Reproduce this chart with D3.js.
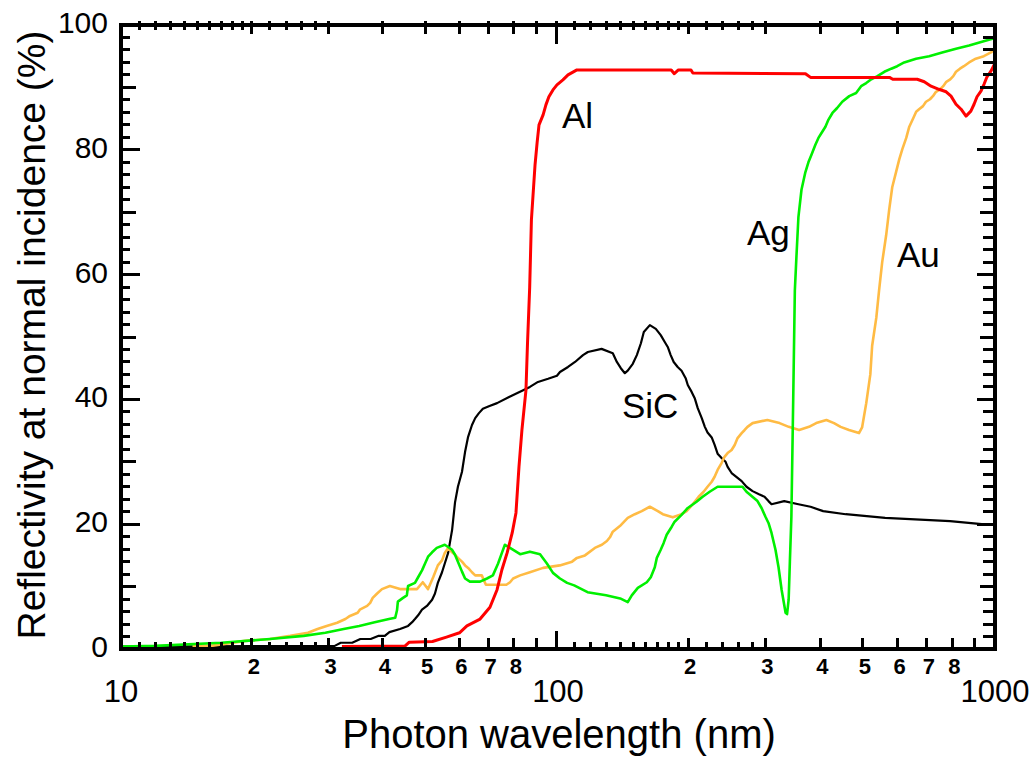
<!DOCTYPE html>
<html>
<head>
<meta charset="utf-8">
<script src="https://cdn.jsdelivr.net/npm/d3@7"></script>
<style>
  body { margin: 0; background: #fff; }
  text { font-family: "Liberation Sans", Arial, sans-serif; fill: #000; }
</style>
</head>
<body>
<div id="chart"></div>
<script>
// reflectivity curves, [wavelength nm, reflectivity %]
const alData = [[32.2,0.4],[45,0.5],[46,1.1],[52,1.2],[56,1.9],[60,2.6],[62.4,3.7],[66.9,4.8],[70.5,6.7],[73.2,9.5],[75.1,12.7],[77.2,15.4],[79.3,18.6],[80.9,21.8],[82.2,29.2],[83.5,35.1],[85.3,41.5],[86,49],[87,58],[87.8,68.8],[88.8,74],[89.5,77.6],[90.5,81.2],[91.4,84],[93.4,85.6],[94.8,87.2],[96.3,88.5],[98.4,89.6],[100.5,90.4],[103.7,91.2],[106.5,92],[111.6,92.8],[183,92.8],[186,92.2],[190,92.8],[203,92.8],[205,92.3],[370,92.2],[380,91.6],[575,91.6],[585,91.3],[665,91.3],[690,90.9],[715,90.2],[745,89.7],[774,89.3],[794,88.6],[815,87.3],[837,86.5],[859,85.4],[881,86.2],[896,87.3],[910,88.5],[929,89.4],[944,90.5],[959,91.7],[979,92.6],[1000,93.9]];

const agData = [[10,0.4],[12,0.5],[17,1.0],[22,1.6],[26.3,2.1],[29.5,2.6],[32.5,3.2],[35.3,3.7],[38.3,4.3],[41.3,4.8],[42.7,5.0],[43.1,6.2],[43.3,7.6],[44.5,8.2],[45.4,8.6],[45.7,10.1],[47.4,10.6],[48.2,11.5],[49.2,12.6],[50,13.7],[50.8,14.8],[51.9,15.5],[53.2,16.2],[55.5,16.7],[57.7,15.9],[58.6,15.1],[59.5,14],[60.8,12.4],[61.8,11.3],[63.4,10.8],[66.9,10.8],[69.4,11.3],[71.6,11.8],[73.6,13.7],[75.1,15.4],[76.3,16.7],[78.4,16.2],[82.7,15.2],[87.1,15.6],[91.9,15.2],[95.3,13.7],[98.4,12.2],[102.1,11.3],[106,10.6],[110,10.2],[118,9.1],[130,8.6],[140,8.1],[145.7,7.5],[148.8,8.6],[153.6,9.8],[161,10.7],[164.4,11.5],[167.9,13.1],[169.7,14.6],[173.2,15.9],[175.9,17],[178.7,18.3],[183.5,19.6],[186.3,20.4],[193.2,21.5],[199.6,22.6],[209,23.6],[215.8,24.4],[223.9,25.2],[233.4,26],[266,26],[271.6,25.2],[287.7,23.7],[293.9,22.6],[300,21.2],[304.8,20.2],[309.7,18.6],[316.2,15.9],[321.3,13.1],[326.5,9.5],[333.4,5.8],[336,5.6],[338.8,7.9],[341,14],[343.7,21.2],[347,40],[350,57.5],[353,63],[356.6,69.2],[362.4,73.6],[369.8,76.4],[375.8,78],[381.9,79.2],[389.8,80.8],[396.1,81.9],[402.5,82.7],[410.9,83.7],[417.3,84.8],[426.3,85.9],[436.9,86.7],[448.8,87.7],[465.6,88.6],[482.7,89.1],[495.5,90.2],[508.9,90.7],[522.6,91.3],[539.7,91.8],[559.6,92.5],[580.4,93],[598.7,93.4],[621,94],[661,94.6],[708,95],[758,95.6],[815,96.2],[873,96.7],[934,97.3],[1000,97.9]];

const auData = [[14.6,0.5],[16.1,0.5],[19.3,1.3],[22,1.6],[24.5,2.1],[26.9,2.6],[28.3,3.2],[29.7,3.7],[31.4,4.2],[32.8,4.8],[33.6,5.3],[35,5.8],[35.4,6.3],[36.8,6.9],[37.4,7.4],[37.9,8.2],[38.8,8.9],[39.8,9.6],[41.5,10.1],[43.8,9.6],[47.9,9.6],[49.4,10.7],[50.8,9.6],[52.2,11.5],[53.5,13.4],[54.7,14.2],[55.5,15.4],[56.5,16.2],[57.7,15.5],[58.6,15.1],[59.5,14.6],[60.8,14],[61.8,13.4],[62.8,13],[64.1,12.3],[65.2,11.8],[67.5,11.8],[69,10.3],[76.9,10.3],[78.4,10.7],[79.7,11.3],[82.7,11.8],[87.1,12.3],[93.4,13],[102,13.4],[108.8,14],[111.6,14.6],[116.4,15],[122.6,16.2],[127.2,16.7],[130.6,17.3],[132.7,17.9],[134.7,18.8],[139.8,19.7],[145.7,21],[151.2,21.6],[156.8,22.1],[163.6,22.8],[170.6,22.1],[175.1,21.6],[184.5,21.1],[193.2,21.6],[198.4,22.1],[202.6,22.8],[207,23.6],[211.3,24.4],[216.9,25.2],[221.4,26],[226.3,26.8],[229.8,27.6],[233.4,28.7],[238.3,29.8],[242,30.8],[246,31.4],[251.2,31.9],[255.3,32.7],[259.2,33.8],[264.8,34.6],[269,35.1],[273,35.6],[280.4,36.2],[303,36.7],[323,36.2],[339,35.6],[358,35.1],[377,35.6],[391.5,36.2],[413,36.7],[429.8,36.2],[445,35.6],[465,35.1],[490,34.6],[498,35.5],[509,39.4],[520,44],[525,48.6],[536.6,53.1],[544.5,57.5],[553.4,62],[565,66.3],[574.1,70.4],[583.3,74],[595.5,76.5],[605.4,78.5],[615.1,80.1],[627.8,81.9],[637.9,83.7],[651.6,85.1],[661.3,86.1],[671.4,86.5],[685.4,87],[696.3,87.7],[711,88.1],[722.1,88.6],[733.8,89.3],[749.9,89.7],[762.1,90.2],[774.6,90.9],[790.7,91.3],[803.5,91.8],[815,92.5],[832,93],[849.4,93.4],[873,94],[904,94.6],[943,95],[979,95.6],[1000,96.2]];

const sicData = [[10,0.4],[31,0.5],[32,1],[34,1],[35.5,1.6],[37.5,1.6],[39,2.1],[40.4,2.1],[41.4,2.7],[43.8,3.2],[45.7,3.7],[46.7,4.3],[47.4,4.8],[48.2,5.4],[49.2,6.3],[50.5,6.9],[51.9,7.9],[52.7,8.9],[53.5,10.6],[54.7,12.3],[55.5,13.7],[56.5,15.4],[57.7,19.1],[58.6,23.5],[59.5,26],[60.8,28.4],[61.8,31.6],[62.8,34],[64.1,35.9],[65.2,37],[66.5,37.8],[67.9,38.5],[70.1,38.9],[73.2,39.4],[78,40.4],[81.3,41],[87.1,42],[90.9,42.8],[95.9,43.3],[100.5,43.8],[102.1,44.4],[106.5,45.2],[110.5,46],[115.2,47.1],[118.2,47.6],[127,48.1],[134.7,47.4],[137.6,46],[140.5,45],[143.5,44.2],[145.7,44.6],[149.6,45.7],[152.8,47.1],[156.1,49],[158.5,50.8],[163.6,51.9],[168.8,51.3],[173.2,50.3],[176.9,49.2],[179.7,48.4],[182.5,47.1],[185.4,46],[189.3,45.2],[193.2,44.6],[197.4,43.4],[199.6,42.3],[203.7,41.2],[207,40.2],[210.3,38.6],[214.8,37],[218.3,35.6],[221.4,34.7],[226.3,33.9],[229.8,32.7],[233.4,31.3],[238.3,30.6],[243.4,30],[246,29.2],[251.2,28.2],[264.8,26.9],[271.6,26],[280.4,25.3],[290,24.8],[298.5,24.4],[304.8,23.7],[309.7,23.2],[331,23.7],[356.6,23.2],[380,22.8],[406,22.1],[457,21.6],[562,21],[790,20.5],[933,20],[1000,20]];

// axis ticks
const xDecades = [10, 100, 1000];
const xUnitTicks = [20,30,40,50,60,70,80,90,200,300,400,500,600,700,800,900];
const xFineTicks = [11,12,13,14,15,16,17,18,19,22,24,26,28,110,120,130,140,150,160,170,180,190,220,240,260,280];
const xSmallLabels = [[20,"2"],[30,"3"],[40,"4"],[50,"5"],[60,"6"],[70,"7"],[80,"8"],[200,"2"],[300,"3"],[400,"4"],[500,"5"],[600,"6"],[700,"7"],[800,"8"]];
const yTicks = d3.range(0, 101, 2);
const yLabels = [0, 20, 40, 60, 80, 100];

const curveLabels = [["Al", 562, 128], ["SiC", 622, 418], ["Ag", 747, 245], ["Au", 897, 267]];

const W = 1036, H = 759;
const pLeft = 121, pRight = 995, pTop = 25, pBottom = 649;

const svg = d3.select('#chart').append('svg')
  .attr('width', W).attr('height', H);

const x = d3.scaleLog().domain([10, 100, 1000]).range([pLeft, 556, pRight]);
const y = d3.scaleLinear().domain([0, 100]).range([pBottom, pTop]);

const line = d3.line().x(d => x(d[0])).y(d => y(d[1]));

// curves
const series = [
  [sicData, '#000000', 2.2],
  [auData, '#ffbb44', 2.6],
  [agData, '#00f000', 2.6],
  [alData, '#ff0000', 3]
];
series.forEach(s => {
  svg.append('path')
    .datum(s[0])
    .attr('d', line)
    .attr('fill', 'none')
    .attr('stroke', s[1])
    .attr('stroke-width', s[2])
    .attr('stroke-linejoin', 'round');
});

// frame
const axes = svg.append('g').attr('stroke', '#000').attr('shape-rendering', 'crispEdges');
axes.append('rect')
  .attr('x', pLeft).attr('y', pTop)
  .attr('width', pRight - pLeft).attr('height', pBottom - pTop)
  .attr('fill', 'none').attr('stroke-width', 4);

// x ticks, bottom and top
function xTick(v, lenB, lenT) {
  axes.append('line').attr('x1', x(v)).attr('x2', x(v))
    .attr('y1', pBottom).attr('y2', pBottom - lenB).attr('stroke-width', 3);
  axes.append('line').attr('x1', x(v)).attr('x2', x(v))
    .attr('y1', pTop - 4).attr('y2', pTop + lenT).attr('stroke-width', 3);
}
xFineTicks.forEach(v => xTick(v, 7, 5));
xUnitTicks.forEach(v => xTick(v, 11, 9));
xTick(100, 18, 19);

// y ticks, left and right
yTicks.forEach(v => {
  const len = v % 20 === 0 ? 19 : (v % 10 === 0 ? 15 : 9);
  const lenR = v % 20 === 0 ? 18 : (v % 10 === 0 ? 15 : 12);
  axes.append('line').attr('x1', pLeft).attr('x2', pLeft + len)
    .attr('y1', y(v)).attr('y2', y(v)).attr('stroke-width', 3);
  axes.append('line').attr('x1', pRight).attr('x2', pRight - lenR)
    .attr('y1', y(v)).attr('y2', y(v)).attr('stroke-width', 3);
});

// tick labels
svg.append('g').selectAll('text')
  .data(yLabels).enter().append('text')
  .attr('x', 108).attr('y', d => y(d) + 8)
  .attr('text-anchor', 'end')
  .style('font-size', '30px')
  .text(d => d);

svg.append('g').selectAll('text')
  .data(xDecades).enter().append('text')
  .attr('x', d => x(d) + (d === 100 ? 2 : 0)).attr('y', 702)
  .attr('text-anchor', 'middle')
  .style('font-size', '31px')
  .text(d => d);

svg.append('g').selectAll('text')
  .data(xSmallLabels).enter().append('text')
  .attr('x', d => x(d[0]) + 2).attr('y', 674)
  .attr('text-anchor', 'middle')
  .style('font-size', '22px')
  .style('font-weight', 'bold')
  .text(d => d[1]);

// axis titles
svg.append('text')
  .attr('x', 559).attr('y', 748)
  .attr('text-anchor', 'middle')
  .style('font-size', '40px')
  .text('Photon wavelength (nm)');

svg.append('text')
  .attr('transform', 'translate(45,335) rotate(-90)')
  .attr('text-anchor', 'middle')
  .style('font-size', '39px')
  .text('Reflectivity at normal incidence (%)');

// curve names
svg.append('g').selectAll('text')
  .data(curveLabels).enter().append('text')
  .attr('x', d => d[1]).attr('y', d => d[2])
  .style('font-size', '35px')
  .text(d => d[0]);
</script>
</body>
</html>
